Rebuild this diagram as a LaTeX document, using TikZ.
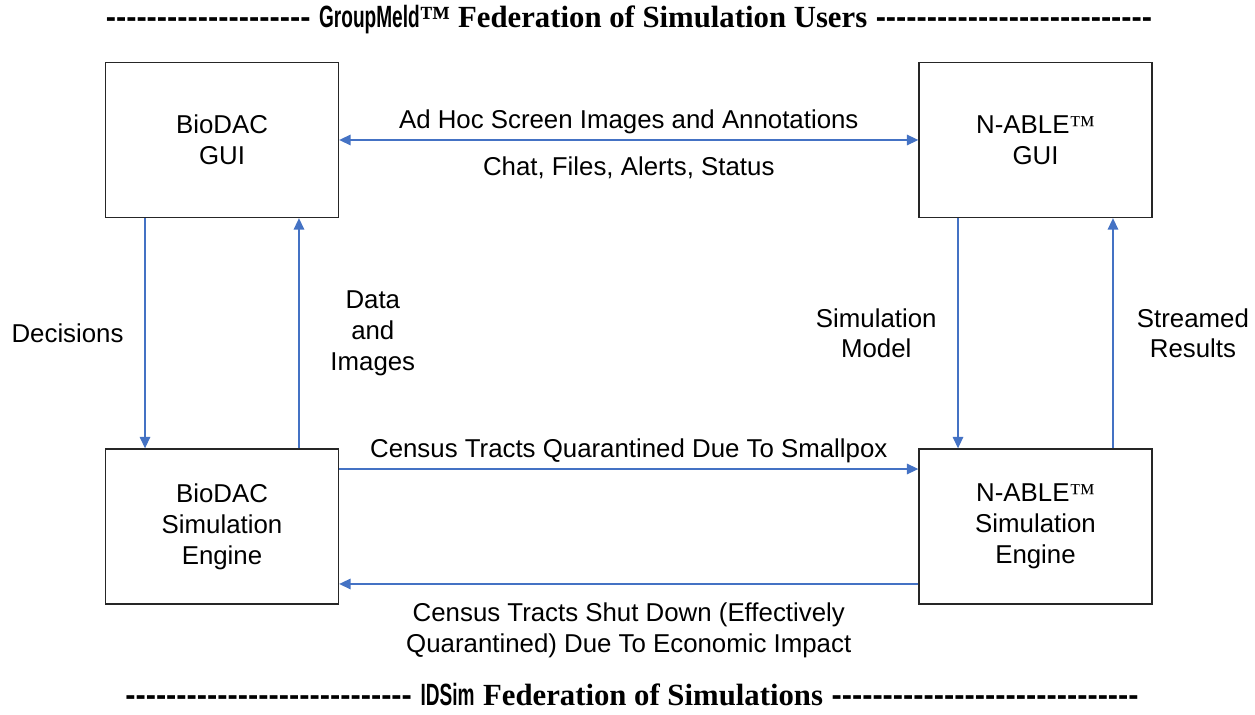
\documentclass[tikz,border=0pt]{standalone}
\usepackage{fontspec}
\setmainfont{Liberation Sans}
\newfontfamily\timesfont{Liberation Serif}
\usetikzlibrary{arrows.meta}

\definecolor{linkblue}{RGB}{68,114,196}
\newcommand{\tmark}{{\timesfont ™}}
\newcommand{\hyph}[1]{\foreach \k in {1,...,#1}{-}}
\newcommand{\narrow}[1]{\scalebox{0.62}[1]{#1}}

\tikzset{
  block/.style={draw=black!85, line width=0.8pt, minimum width=4.66cm, minimum height=3.1cm,
    align=center, font=\fontsize{14.7}{17.6}\selectfont},
  flow/.style={draw=linkblue, line width=0.7pt},
  lbl/.style={align=center, font=\fontsize{14.7}{17.4}\selectfont, text=black},
  banner/.style={font=\fontsize{17.5}{20}\selectfont\bfseries, inner sep=0pt},
}

\begin{document}
\begin{tikzpicture}[x=0.02cm, y=-0.02cm, >={Triangle[length=6.5pt,width=6pt]}]
    \useasboundingbox (0,0) rectangle (1255,715);

    % federation banners
    \node[banner] (usersbanner) at (629,20) {\hyph{20} \narrow{GroupMeld}{\timesfont ™ Federation of Simulation Users} \hyph{27}};
    \node[banner] (simsbanner) at (632,695) {\hyph{28} \narrow{IDSim} {\timesfont Federation of Simulations} \hyph{30}};

    % GUIs
    \node[block] (biogui) at (222,140) {BioDAC\\GUI};
    \node[block] (nablegui) at (1035.5,140) {N-ABLE\tmark\\GUI};

    % engines
    \node[block] (biosim) at (222,526.5) {BioDAC\\Simulation\\Engine};
    \node[block] (nablesim) at (1035.5,526.5) {N-ABLE\tmark\\Simulation\\Engine};

    % GUI to GUI
    \draw[flow, <->] (biogui) -- (nablegui)
        node[lbl, midway, above=0pt] {Ad Hoc Screen Images and Annotations}
        node[lbl, midway, below=6pt] {Chat, Files, Alerts, Status};

    % BioDAC side
    \draw[flow, ->] ([xshift=-1.54cm]biogui.south) -- ([xshift=-1.54cm]biosim.north)
        node[lbl, midway, left=0.3cm] {Decisions};
    \draw[flow, ->] ([xshift=1.54cm]biosim.north) -- ([xshift=1.54cm]biogui.south)
        node[lbl, midway, right=0.5cm] {Data\\and\\Images};

    % N-ABLE side
    \draw[flow, ->] ([xshift=-1.55cm]nablegui.south) -- ([xshift=-1.55cm]nablesim.north)
        node[lbl, midway, left=0.3cm] {Simulation\\Model};
    \draw[flow, ->] ([xshift=1.55cm]nablesim.north) -- ([xshift=1.55cm]nablegui.south)
        node[lbl, midway, right=0.35cm] {Streamed\\Results};

    % engine to engine
    \draw[flow, ->] ([yshift=1.15cm]biosim.east) -- ([yshift=1.15cm]nablesim.west)
        node[lbl, midway, above=0pt] {Census Tracts Quarantined Due To Smallpox};
    \draw[flow, ->] ([yshift=-1.15cm]nablesim.west) -- ([yshift=-1.15cm]biosim.east)
        node[lbl, midway, below=7pt] {Census Tracts Shut Down (Effectively\\Quarantined) Due To Economic Impact};
\end{tikzpicture}
\end{document}
